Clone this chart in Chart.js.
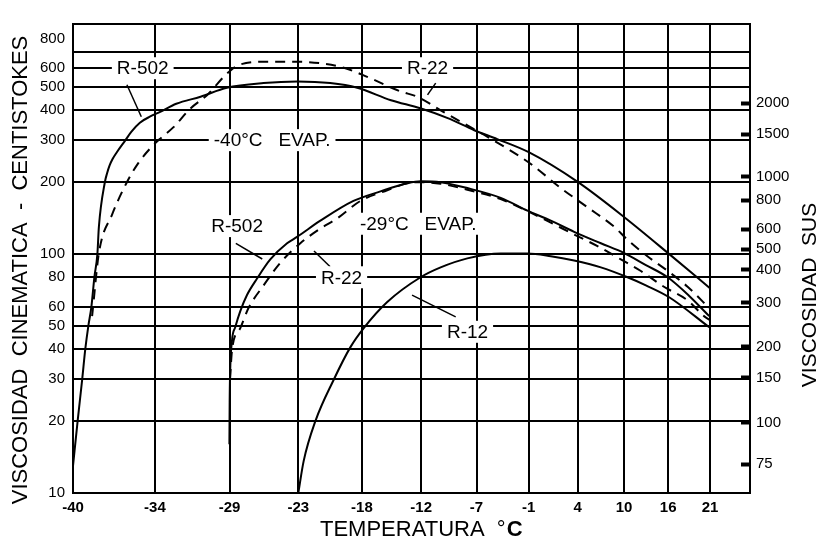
<!DOCTYPE html>
<html>
<head>
<meta charset="utf-8">
<script src="https://cdn.jsdelivr.net/npm/chart.js@4.4.1/dist/chart.umd.min.js"></script>
<style>
  html, body { margin: 0; padding: 0; background: #fff; }
  canvas { display: block; }
</style>
</head>
<body>
<canvas id="chart" width="818" height="546"></canvas>
<script>
// Temperature graduations (°C, taken from whole 10 °F steps) and their printed labels
const tempTicks  = [-40, -34.44, -28.89, -23.33, -17.78, -12.22, -6.67, -1.11, 4.44, 10, 15.56, 21.11];
const tempLabels = ['-40', '-34', '-29', '-23', '-18', '-12', '-7', '-1', '4', '10', '16', '21'];

// Kinematic viscosity gridlines (cSt)
const cstTicks  = [10, 20, 30, 40, 50, 60, 80, 100, 200, 300, 400, 500, 600, 700, 800];
const cstLabels = ['10', '20', '30', '40', '50', '60', '80', '100', '200', '300', '400', '500', '600', '', '800'];

// Saybolt Universal Seconds and the cSt level each mark sits at
const susLabels = ['75', '100', '150', '200', '300', '400', '500', '600', '800', '1000', '1500', '2000'];
const susAtCst  = [13.2, 19.7, 30.3, 40.9, 62.5, 86, 105, 127, 168, 211, 318, 428];

// R-502, -40 °C evaporator
const r502Evap40Temp = [-40.0, -39.7, -39.4, -39.2, -39.0, -38.8, -38.6, -38.4, -38.3, -37.9, -37.75, -37.58, -37.38, -37.09, -36.5, -36.1, -35.5, -34.8, -34.1, -32.9, -31.1, -29.1, -26.2, -23.4, -20.6, -18.2, -15.1, -12.3, -9.6, -6.9, -4.5, -1.1, 4.4, 10.1, 15.7, 21.1];
const r502Evap40Visc = [13, 20, 30, 40, 50, 60, 80, 100, 130, 200, 218, 235, 250, 267, 300, 325, 355, 376, 393, 426, 456, 497, 520, 528, 520, 497, 441, 408, 371, 330, 303, 267, 201, 142, 100, 72];

// R-22, -40 °C evaporator
const r22Evap40Temp = [-38.75, -38.7, -38.3, -37.4, -36.4, -35.6, -34.7, -34.1, -33.1, -31.9, -30.6, -29.1, -28.1, -25.9, -23.7, -21.5, -19.4, -17.3, -14.2, -12.6, -10.0, -5.9, -3.4, -0.9, 2.5, 5.6, 8.8, 10.4, 12.9, 15.5, 18.1, 21.1];
const r22Evap40Visc = [55, 59, 101, 147, 200, 241, 280, 303, 340, 405, 464, 569, 621, 639, 639, 630, 603, 552, 480, 456, 393, 316, 276, 239, 189, 157, 130, 115, 98, 85, 73, 59];

// R-502, -29 °C evaporator
const r502Evap29Temp = [-28.9, -28.88, -28.85, -28.7, -28.44, -28.05, -27.52, -26.72, -25.65, -24.27, -23.44, -21.45, -18.54, -16.08, -13.56, -12.28, -10.31, -7.62, -4.13, -1.24, 1.36, 4.03, 7.18, 10.01, 12.71, 15.49, 18.28, 21.0];
const r502Evap29Visc = [16, 24, 31, 43.4, 49.5, 57.7, 67.4, 79, 95, 111, 118, 138, 167, 183, 198, 202, 200, 189, 172, 152, 138, 124, 111, 101, 90, 80, 67, 55];

// R-22, -29 °C evaporator
const r22Evap29Temp = [-28.85, -28.7, -28.05, -27.39, -26.19, -24.83, -23.16, -21.45, -19.99, -17.91, -15.45, -13.56, -12.28, -10.31, -7.62, -4.13, -0.55, 4.0, 6.78, 9.6, 12.08, 15.01, 18.11, 20.29, 21.1];
const r22Evap29Visc = [30, 39.5, 49, 59.6, 74, 92, 111, 128, 141, 167, 185, 198, 200, 197, 186, 170, 147, 121, 108, 95, 85, 73, 64, 55, 53];

// R-12
const r12Temp = [-23.33, -22.88, -21.88, -20.29, -18.81, -17.61, -15.45, -12.28, -10.31, -7.62, -4.13, -1.24, 1.36, 4.03, 7.18, 10.42, 12.71, 15.69, 21.0];
const r12Visc = [10, 13.6, 20, 29.8, 40.8, 49, 63, 80, 88, 96, 100.6, 100.6, 98, 94, 88, 80, 74, 66, 49.4];

// Curve call-outs: text, temperature (°C), viscosity (cSt)
const calloutText = ['R-502', 'R-22', '-40°C   EVAP.', 'R-502', '-29°C   EVAP.', 'R-22', 'R-12'];
const calloutTemp = [-35.3, -11.6, -25.5, -28.3, -12.5, -19.6, -7.6];
const calloutVisc = [600, 600, 300, 131, 134, 80, 47.3];

// Leader lines from call-outs to curves: [t1, v1, t2, v2]
const leaderLines = [
  [-36.4, 512, -35.4, 376],
  [-10.8, 520, -11.6, 464],
  [-28.4, 111, -26.3, 95.4],
  [-22.0, 103, -20.6, 88.5],
  [-13.1, 67.3, -8.8, 54.6]
];

const FONT = '"Liberation Sans", Arial, Helvetica, sans-serif';
Chart.defaults.font.family = FONT;
Chart.defaults.color = '#000';

// Temperature axis laid out on log(°F + 140), as on the printed chart
class ViscosityTempScale extends Chart.LinearScale {
  static id = 'viscTemp';
  static defaults = {};
  _t(c) { return Math.log10(c * 1.8 + 32 + 140); }
  buildTicks() { return tempTicks.map(v => ({ value: v })); }
  getPixelForValue(v) {
    const a = this._t(this.min), b = this._t(this.max);
    return this.getPixelForDecimal((this._t(v) - a) / (b - a));
  }
  getValueForPixel(p) {
    const a = this._t(this.min), b = this._t(this.max);
    const t = a + this.getDecimalForPixel(p) * (b - a);
    return (Math.pow(10, t) - 172) / 1.8;
  }
}
Chart.register(ViscosityTempScale);

const zip = (xs, ys) => xs.map((x, i) => ({ x: x, y: ys[i] }));

function curve(label, xs, ys, dashed) {
  return {
    label: label,
    data: zip(xs, ys),
    borderColor: '#000',
    borderWidth: 2,
    borderDash: dashed ? [10, 7] : [],
    pointRadius: 0,
    fill: false,
    cubicInterpolationMode: 'monotone',
    yAxisID: 'y'
  };
}

const annotations = {
  id: 'annotations',
  afterDatasetsDraw(chart) {
    const { ctx, chartArea: a } = chart;
    const x = chart.scales.x, y = chart.scales.y;
    ctx.save();
    ctx.strokeStyle = '#000';
    ctx.lineWidth = 1.5;
    ctx.setLineDash([]);
    leaderLines.forEach(l => {
      ctx.beginPath();
      ctx.moveTo(x.getPixelForValue(l[0]), y.getPixelForValue(l[1]));
      ctx.lineTo(x.getPixelForValue(l[2]), y.getPixelForValue(l[3]));
      ctx.stroke();
    });
    ctx.font = '19px ' + FONT;
    ctx.textAlign = 'center';
    ctx.textBaseline = 'middle';
    calloutText.forEach((t, i) => {
      const px = x.getPixelForValue(calloutTemp[i]);
      const py = y.getPixelForValue(calloutVisc[i]);
      const w = ctx.measureText(t).width;
      ctx.fillStyle = '#fff';
      ctx.fillRect(px - w / 2 - 5, py - 11, w + 10, 22);
      ctx.fillStyle = '#000';
      ctx.fillText(t, px, py + 1);
    });
    ctx.lineWidth = 2;
    ctx.strokeRect(a.left, a.top, a.right - a.left, a.bottom - a.top);
    ctx.restore();
  },
  afterDraw(chart) {
    const { ctx } = chart;
    ctx.save();
    ctx.fillStyle = '#000';
    ctx.textBaseline = 'middle';
    // left axis title
    ctx.save();
    ctx.translate(21, 270);
    ctx.rotate(-Math.PI / 2);
    ctx.textAlign = 'center';
    ctx.font = '22px ' + FONT;
    ctx.fillText('VISCOSIDAD  CINEMATICA  -  CENTISTOKES', 0, 0);
    ctx.restore();
    // right axis title
    ctx.save();
    ctx.translate(810, 295);
    ctx.rotate(-Math.PI / 2);
    ctx.textAlign = 'center';
    ctx.font = '21px ' + FONT;
    ctx.fillText('VISCOSIDAD  SUS', 0, 0);
    ctx.restore();
    // bottom axis title with bold unit
    ctx.textAlign = 'left';
    ctx.font = '22px ' + FONT;
    const part1 = 'TEMPERATURA  °';
    const w1 = ctx.measureText(part1).width;
    ctx.fillText(part1, 320, 530);
    ctx.font = 'bold 22px ' + FONT;
    ctx.fillText('C', 320 + w1 + 1, 530);
    ctx.restore();
  }
};

new Chart(document.getElementById('chart'), {
  type: 'line',
  data: {
    datasets: [
      curve('R-502 -40°C', r502Evap40Temp, r502Evap40Visc, false),
      curve('R-22 -40°C', r22Evap40Temp, r22Evap40Visc, true),
      curve('R-502 -29°C', r502Evap29Temp, r502Evap29Visc, false),
      curve('R-22 -29°C', r22Evap29Temp, r22Evap29Visc, true),
      curve('R-12', r12Temp, r12Visc, false)
    ]
  },
  options: {
    responsive: false,
    animation: false,
    events: [],
    layout: { padding: { top: 12, left: 0, right: 0, bottom: 0 } },
    plugins: { legend: { display: false }, tooltip: { enabled: false } },
    scales: {
      x: {
        type: 'viscTemp',
        min: -40,
        max: (80 - 32) / 1.8,
        afterFit: s => { s.height = 53; },
        grid: { color: '#000', lineWidth: 2, drawTicks: false },
        border: { color: '#000', width: 2 },
        ticks: {
          autoSkip: false,
          maxRotation: 0,
          padding: 6,
          font: { size: 15, weight: 'bold' },
          callback: (v, i) => tempLabels[i]
        }
      },
      y: {
        type: 'logarithmic',
        position: 'left',
        min: 10,
        max: 919,
        afterBuildTicks: s => { s.ticks = cstTicks.map(v => ({ value: v })); },
        afterFit: s => { s.width = 73; },
        grid: {
          drawTicks: false,
          lineWidth: 2,
          color: c => (c.tick && c.tick.value === 800) ? 'rgba(0,0,0,0)' : '#000'
        },
        border: { color: '#000', width: 2 },
        ticks: {
          autoSkip: false,
          padding: 8,
          font: { size: 15 },
          callback: (v, i) => cstLabels[i]
        }
      },
      ySus: {
        type: 'logarithmic',
        position: 'right',
        min: 10,
        max: 919,
        afterBuildTicks: s => { s.ticks = susAtCst.map(v => ({ value: v })); },
        afterFit: s => { s.width = 68; },
        grid: {
          drawOnChartArea: false,
          drawTicks: true,
          tickLength: -9,
          tickWidth: 4,
          tickColor: '#000'
        },
        border: { color: '#000', width: 2 },
        ticks: {
          autoSkip: false,
          padding: 15,
          font: { size: 15 },
          callback: (v, i) => susLabels[i]
        }
      }
    }
  },
  plugins: [annotations]
});
</script>
</body>
</html>
